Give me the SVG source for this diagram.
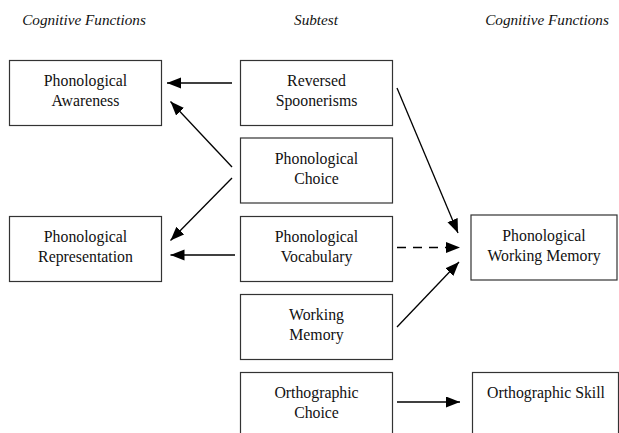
<svg xmlns="http://www.w3.org/2000/svg" width="619" height="433" viewBox="0 0 619 433">
<style>
  .box { fill: #ffffff; stroke: #333333; stroke-width: 1.2; }
  .lbl { font-family: "Liberation Serif", "Times New Roman", serif; font-size: 15.8px; fill: #111111; text-anchor: middle; }
  .hdr { font-family: "Liberation Serif", "Times New Roman", serif; font-size: 15.2px; font-style: italic; fill: #111111; text-anchor: middle; }
  .conn { stroke: #000000; stroke-width: 1.3; fill: none; }
  .dash { stroke-dasharray: 9 7; }
</style>
<defs>
  <marker id="arr" markerUnits="userSpaceOnUse" markerWidth="15" markerHeight="12" refX="14" refY="5.5" orient="auto">
    <path d="M0,0 L14,5.5 L0,11 z" fill="#000000"/>
  </marker>
</defs>
<rect width="619" height="433" fill="#ffffff"/>
<g id="headers">
  <text class="hdr" x="84" y="25">Cognitive Functions</text>
  <text class="hdr" x="316" y="25">Subtest</text>
  <text class="hdr" x="547" y="25">Cognitive Functions</text>
</g>
<g id="phonological-awareness">
  <rect class="box" x="9.5" y="60.5" width="152" height="65"/>
  <text class="lbl" x="85.5" y="86">Phonological</text>
  <text class="lbl" x="85.5" y="106">Awareness</text>
</g>
<g id="phonological-representation">
  <rect class="box" x="9.5" y="216.5" width="152" height="65"/>
  <text class="lbl" x="85.5" y="242">Phonological</text>
  <text class="lbl" x="85.5" y="262">Representation</text>
</g>
<g id="reversed-spoonerisms">
  <rect class="box" x="240.5" y="60.5" width="152" height="65"/>
  <text class="lbl" x="316.5" y="86">Reversed</text>
  <text class="lbl" x="316.5" y="106">Spoonerisms</text>
</g>
<g id="phonological-choice">
  <rect class="box" x="240.5" y="138" width="152" height="65"/>
  <text class="lbl" x="316.5" y="163.5">Phonological</text>
  <text class="lbl" x="316.5" y="183.5">Choice</text>
</g>
<g id="phonological-vocabulary">
  <rect class="box" x="240.5" y="216.5" width="152" height="65"/>
  <text class="lbl" x="316.5" y="242">Phonological</text>
  <text class="lbl" x="316.5" y="262">Vocabulary</text>
</g>
<g id="working-memory">
  <rect class="box" x="240.5" y="294.5" width="152" height="65"/>
  <text class="lbl" x="316.5" y="320">Working</text>
  <text class="lbl" x="316.5" y="340">Memory</text>
</g>
<g id="orthographic-choice">
  <rect class="box" x="240.5" y="372.5" width="152" height="70"/>
  <text class="lbl" x="316.5" y="398">Orthographic</text>
  <text class="lbl" x="316.5" y="418">Choice</text>
</g>
<g id="phonological-working-memory">
  <rect class="box" x="471" y="215" width="146" height="65"/>
  <text class="lbl" x="544" y="240.5">Phonological</text>
  <text class="lbl" x="544" y="260.5">Working Memory</text>
</g>
<g id="orthographic-skill">
  <rect class="box" x="472.5" y="372.5" width="146" height="70"/>
  <text class="lbl" x="546" y="398">Orthographic Skill</text>
</g>
<g id="connectors">
  <line class="conn" x1="232" y1="83" x2="167" y2="83" marker-end="url(#arr)"/>
  <line class="conn" x1="232" y1="167" x2="170.5" y2="101.5" marker-end="url(#arr)"/>
  <line class="conn" x1="232" y1="178" x2="170.5" y2="240.5" marker-end="url(#arr)"/>
  <line class="conn" x1="235" y1="255" x2="170.5" y2="255" marker-end="url(#arr)"/>
  <line class="conn" x1="397" y1="88" x2="458" y2="233" marker-end="url(#arr)"/>
  <line class="conn dash" x1="397" y1="247.5" x2="460" y2="247.5" marker-end="url(#arr)"/>
  <line class="conn" x1="397" y1="327" x2="459" y2="262" marker-end="url(#arr)"/>
  <line class="conn" x1="397" y1="402" x2="460" y2="402" marker-end="url(#arr)"/>
</g>
</svg>
